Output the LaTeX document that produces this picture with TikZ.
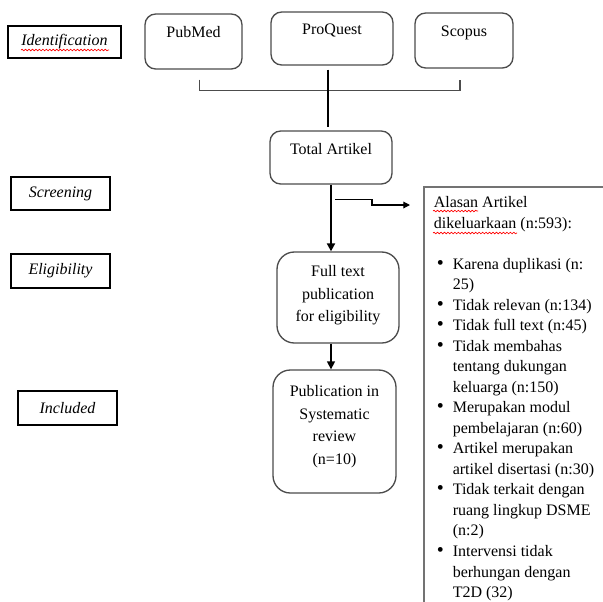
\documentclass[tikz,border=0pt]{standalone}
\usepackage{fontspec}
\setmainfont{Liberation Serif}
\usetikzlibrary{arrows.meta,decorations.pathmorphing}
\newdimen\unitpx \unitpx=0.75pt
% box with its text set at the top
\newcommand{\topbox}[4]{\parbox[c][#2\unitpx][t]{#1\unitpx}{\centering\vspace*{#3\unitpx}\strut #4}}
\newcommand{\reasonbullet}{\hspace*{-1\unitpx}{\fontsize{15}{15}\selectfont\textbullet}\hfill}

\begin{document}
\begin{tikzpicture}[x=0.75pt, y=-0.75pt,
    >={Triangle[length=6pt, width=6pt]},
    stage/.style={draw, line width=0.9pt, inner sep=0pt, font=\fontsize{12}{15}\selectfont\itshape},
    dbbox/.style={draw=black!70, line width=1pt, rounded corners=8pt, inner sep=0pt,
        font=\fontsize{12}{17}\selectfont},
    bigbox/.style={dbbox, rounded corners=13pt},
    reasonbox/.style={draw=black!55, line width=1.2pt, inner xsep=10\unitpx, inner ysep=0pt,
        anchor=north west, font=\fontsize{12}{15.4}\selectfont},
    bracket/.style={draw=black!70, line width=0.9pt},
    trunk/.style={line width=1.6pt},
    flow/.style={->, line width=1.6pt},
    flowthin/.style={->, line width=1.1pt},
    side/.style={->, line width=0.9pt, >={Triangle[length=5pt, width=5pt]}},
    typo/.style={draw=red, line width=0.5pt, decorate,
        decoration={snake, amplitude=0.6pt, segment length=2.6pt}}
]
    \clip (0,0) rectangle (603,601);

    \node[stage, minimum width=113\unitpx, minimum height=32\unitpx] (identification) at (64.5,42) {Identification};
    \node[stage, minimum width=99\unitpx, minimum height=33\unitpx] (screening) at (60.5,193.5) {Screening};
    \node[stage, minimum width=99\unitpx, minimum height=34\unitpx] (eligibility) at (60.5,271) {Eligibility};
    \node[stage, minimum width=99\unitpx, minimum height=34\unitpx] (included) at (67.5,408) {Included};

    \node[dbbox] (pubmed) at (193.5,41.5) {\topbox{97}{55}{7.5}{PubMed}};
    \node[dbbox] (proquest) at (332,38.5) {\topbox{122}{53}{6.5}{ProQuest}};
    \node[dbbox] (scopus) at (464,40.5) {\topbox{98}{55}{7.5}{Scopus}};
    \node[dbbox] (total) at (331,157.5) {\topbox{122}{53}{7.5}{Total Artikel}};
    \node[bigbox] (fulltext) at (338,297.5) {\topbox{122}{91}{8.5}{Full text\\ publication\\ for eligibility}};
    \node[bigbox] (publication) at (334.5,431.5) {\topbox{123}{123}{10.5}{Publication in\\ Systematic\\ review\\ (n=10)}};

    \node[reasonbox] (reasons) at (423,186) {\parbox[c][430\unitpx][t]{180\unitpx}{%
        \raggedright\hyphenpenalty=10000\vspace*{6.6\unitpx}\strut
        Alasan Artikel\\ dikeluarkaan (n:593):\par\vspace{17.5\unitpx}
        \begin{list}{\reasonbullet}{\setlength\leftmargin{19\unitpx}\setlength\labelwidth{15\unitpx}%
            \setlength\labelsep{0pt}\setlength\itemsep{0pt}\setlength\parsep{0pt}%
            \setlength\topsep{0pt}\setlength\rightmargin{16\unitpx}}
        \item Karena duplikasi (n: 25)
        \item Tidak relevan (n:134)
        \item Tidak full text (n:45)
        \item Tidak membahas tentang dukungan keluarga (n:150)
        \item Merupakan modul pembelajaran (n:60)
        \item Artikel merupakan artikel disertasi (n:30)
        \item Tidak terkait dengan ruang lingkup DSME (n:2)
        \item Intervensi tidak berhungan dengan T2D (32)
        \end{list}}};

    \coordinate (bracketleft) at ([shift={(6,10)}]pubmed.south);
    \coordinate (bracketright) at ([shift={(-4,11)}]scopus.south);
    \draw[bracket] (bracketleft) -- ++(0,11) -| (bracketright);
    \draw[trunk] ([shift={(-4,4)}]proquest.south) -- ([shift={(-3,-3)}]total.north);

    \draw[flow] (total.south) -- (total.south |- fulltext.north);
    \draw[flowthin] (total.south |- fulltext.south) -- (total.south |- publication.north);

    \coordinate (split) at ([shift={(4,15)}]total.south);
    \coordinate (exclude) at ([shift={(-13,19)}]reasons.north west);
    \draw[side] (split) -- ++(37,0) |- (exclude);

    \draw[typo] (21,50) -- (109,50);
    \draw[typo] (433,211) -- (478,211);
    \draw[typo] (433,233) -- (517,233);

\end{tikzpicture}
\end{document}
